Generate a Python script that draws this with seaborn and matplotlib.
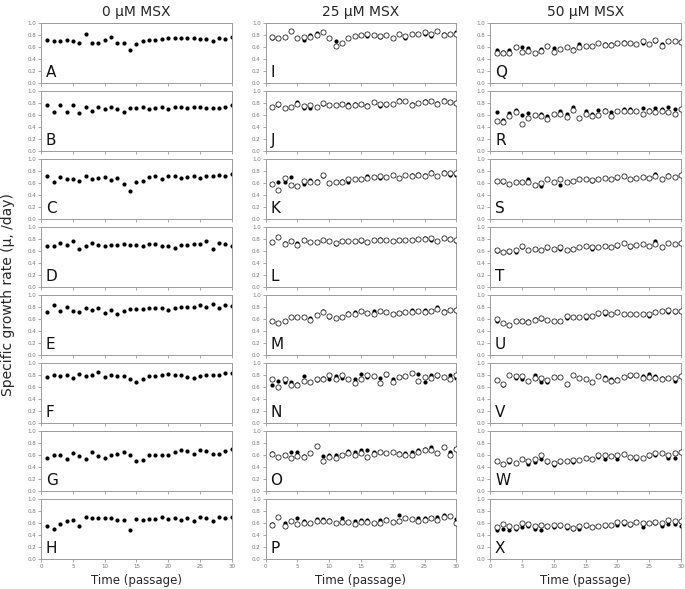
import numpy as np
import matplotlib
matplotlib.use("Agg")
import matplotlib.pyplot as plt
import seaborn as sns

passage = list(range(1, 31))
col_titles = ["0 μM MSX", "25 μM MSX", "50 μM MSX"]

# 0 uM MSX (filled only)
A = [0.72, 0.69, 0.70, 0.72, 0.69, 0.67, 0.81, 0.66, 0.67, 0.71, 0.76, 0.67, 0.66, 0.54, 0.65,
     0.70, 0.72, 0.72, 0.73, 0.75, 0.75, 0.75, 0.74, 0.75, 0.73, 0.73, 0.70, 0.74, 0.73, 0.76]
B = [0.76, 0.65, 0.76, 0.65, 0.77, 0.63, 0.74, 0.67, 0.74, 0.69, 0.74, 0.70, 0.65, 0.71, 0.71,
     0.74, 0.70, 0.71, 0.73, 0.70, 0.74, 0.73, 0.72, 0.74, 0.73, 0.72, 0.72, 0.72, 0.74, 0.76]
C = [0.72, 0.62, 0.70, 0.67, 0.67, 0.63, 0.71, 0.66, 0.69, 0.70, 0.65, 0.69, 0.58, 0.47, 0.61,
     0.63, 0.70, 0.72, 0.67, 0.71, 0.72, 0.68, 0.70, 0.71, 0.69, 0.72, 0.72, 0.73, 0.71, 0.75]
D = [0.69, 0.69, 0.74, 0.70, 0.77, 0.64, 0.69, 0.73, 0.70, 0.68, 0.70, 0.70, 0.72, 0.70, 0.70,
     0.69, 0.71, 0.72, 0.68, 0.69, 0.65, 0.70, 0.70, 0.72, 0.72, 0.77, 0.64, 0.73, 0.71, 0.69]
E = [0.72, 0.83, 0.74, 0.80, 0.74, 0.72, 0.78, 0.76, 0.79, 0.70, 0.76, 0.69, 0.73, 0.77, 0.77,
     0.77, 0.78, 0.79, 0.79, 0.75, 0.78, 0.80, 0.81, 0.81, 0.84, 0.81, 0.85, 0.78, 0.83, 0.82]
F = [0.77, 0.80, 0.78, 0.80, 0.76, 0.82, 0.79, 0.80, 0.85, 0.77, 0.81, 0.78, 0.78, 0.73, 0.69,
     0.74, 0.78, 0.78, 0.80, 0.82, 0.81, 0.80, 0.77, 0.76, 0.78, 0.80, 0.81, 0.81, 0.83, 0.83]
G = [0.56, 0.61, 0.61, 0.53, 0.64, 0.58, 0.54, 0.66, 0.58, 0.56, 0.60, 0.62, 0.66, 0.61, 0.51,
     0.52, 0.60, 0.60, 0.61, 0.60, 0.65, 0.68, 0.67, 0.62, 0.68, 0.67, 0.62, 0.62, 0.67, 0.70]
H = [0.56, 0.50, 0.59, 0.63, 0.65, 0.56, 0.71, 0.68, 0.68, 0.68, 0.69, 0.65, 0.66, 0.48, 0.67,
     0.66, 0.67, 0.67, 0.71, 0.67, 0.68, 0.66, 0.69, 0.63, 0.70, 0.69, 0.63, 0.70, 0.69, 0.70]

# 25 uM MSX: filled / open series
I_filled = [0.75, 0.75, 0.77, 0.86, 0.74, 0.71, 0.79, 0.83, 0.84, 0.75, 0.69, 0.67, 0.75, 0.78, 0.80,
            0.78, 0.79, 0.77, 0.80, 0.74, 0.82, 0.75, 0.81, 0.81, 0.82, 0.78, 0.87, 0.81, 0.81, 0.84]
I_open = [0.76, 0.75, 0.76, 0.86, 0.74, 0.76, 0.77, 0.80, 0.84, 0.75, 0.61, 0.67, 0.75, 0.78, 0.80,
          0.81, 0.79, 0.78, 0.80, 0.75, 0.82, 0.78, 0.81, 0.81, 0.84, 0.82, 0.87, 0.79, 0.81, 0.82]
J_filled = [0.73, 0.76, 0.72, 0.74, 0.81, 0.72, 0.72, 0.74, 0.78, 0.76, 0.76, 0.78, 0.78, 0.78, 0.78,
            0.77, 0.81, 0.75, 0.77, 0.78, 0.85, 0.84, 0.78, 0.80, 0.83, 0.83, 0.80, 0.85, 0.82, 0.80]
J_open = [0.73, 0.79, 0.72, 0.74, 0.79, 0.75, 0.77, 0.74, 0.80, 0.76, 0.76, 0.78, 0.75, 0.76, 0.79,
          0.75, 0.81, 0.79, 0.79, 0.78, 0.84, 0.84, 0.77, 0.80, 0.81, 0.83, 0.79, 0.84, 0.82, 0.80]
K_filled = [0.58, 0.62, 0.61, 0.70, 0.54, 0.59, 0.65, 0.63, 0.72, 0.60, 0.61, 0.64, 0.62, 0.67, 0.67,
            0.71, 0.70, 0.68, 0.70, 0.73, 0.68, 0.73, 0.74, 0.75, 0.73, 0.78, 0.72, 0.78, 0.73, 0.73]
K_open = [0.58, 0.48, 0.69, 0.56, 0.54, 0.63, 0.61, 0.61, 0.73, 0.60, 0.62, 0.62, 0.66, 0.67, 0.67,
          0.68, 0.70, 0.71, 0.70, 0.73, 0.68, 0.73, 0.72, 0.74, 0.71, 0.77, 0.72, 0.77, 0.76, 0.76]
L_filled = [0.75, 0.83, 0.74, 0.76, 0.74, 0.78, 0.75, 0.75, 0.79, 0.77, 0.72, 0.77, 0.76, 0.77, 0.77,
            0.75, 0.79, 0.80, 0.78, 0.77, 0.79, 0.79, 0.79, 0.80, 0.81, 0.79, 0.77, 0.82, 0.80, 0.76]
L_open = [0.75, 0.83, 0.72, 0.76, 0.70, 0.78, 0.75, 0.75, 0.79, 0.77, 0.74, 0.77, 0.76, 0.77, 0.79,
          0.75, 0.79, 0.78, 0.78, 0.77, 0.79, 0.79, 0.79, 0.80, 0.80, 0.82, 0.77, 0.82, 0.80, 0.78]
M_filled = [0.56, 0.53, 0.57, 0.63, 0.63, 0.63, 0.61, 0.67, 0.74, 0.63, 0.62, 0.63, 0.70, 0.71, 0.74,
            0.70, 0.73, 0.74, 0.71, 0.68, 0.70, 0.72, 0.75, 0.74, 0.75, 0.74, 0.80, 0.73, 0.75, 0.75]
M_open = [0.56, 0.53, 0.56, 0.63, 0.63, 0.63, 0.59, 0.67, 0.71, 0.65, 0.62, 0.63, 0.69, 0.68, 0.74,
          0.70, 0.69, 0.74, 0.71, 0.68, 0.70, 0.72, 0.71, 0.74, 0.72, 0.74, 0.77, 0.71, 0.75, 0.75]
N_filled = [0.64, 0.70, 0.68, 0.69, 0.65, 0.79, 0.69, 0.72, 0.76, 0.73, 0.78, 0.76, 0.73, 0.74, 0.82,
            0.77, 0.78, 0.75, 0.81, 0.74, 0.77, 0.78, 0.83, 0.82, 0.68, 0.80, 0.79, 0.77, 0.81, 0.75]
N_open = [0.73, 0.61, 0.74, 0.64, 0.63, 0.70, 0.69, 0.74, 0.73, 0.80, 0.73, 0.80, 0.73, 0.67, 0.74,
          0.80, 0.78, 0.67, 0.82, 0.68, 0.77, 0.78, 0.83, 0.71, 0.77, 0.76, 0.81, 0.77, 0.74, 0.80]
O_filled = [0.64, 0.57, 0.60, 0.66, 0.65, 0.58, 0.63, 0.75, 0.58, 0.61, 0.61, 0.60, 0.67, 0.65, 0.68,
            0.68, 0.66, 0.65, 0.63, 0.66, 0.63, 0.63, 0.66, 0.69, 0.71, 0.73, 0.63, 0.73, 0.65, 0.70]
O_open = [0.62, 0.57, 0.60, 0.56, 0.59, 0.57, 0.63, 0.75, 0.51, 0.57, 0.56, 0.60, 0.63, 0.61, 0.63,
          0.57, 0.62, 0.65, 0.63, 0.65, 0.62, 0.61, 0.61, 0.66, 0.68, 0.69, 0.63, 0.73, 0.60, 0.70]
P_filled = [0.59, 0.70, 0.60, 0.64, 0.68, 0.64, 0.60, 0.67, 0.67, 0.65, 0.61, 0.69, 0.62, 0.63, 0.65,
            0.65, 0.61, 0.65, 0.67, 0.62, 0.74, 0.68, 0.67, 0.68, 0.68, 0.68, 0.71, 0.73, 0.72, 0.67]
P_open = [0.57, 0.70, 0.55, 0.64, 0.58, 0.61, 0.60, 0.63, 0.63, 0.63, 0.60, 0.62, 0.62, 0.58, 0.62,
          0.62, 0.61, 0.61, 0.65, 0.62, 0.63, 0.68, 0.67, 0.63, 0.66, 0.68, 0.65, 0.70, 0.72, 0.60]

# 50 uM MSX: filled / open series
Q_filled = [0.54, 0.51, 0.55, 0.59, 0.60, 0.58, 0.50, 0.57, 0.61, 0.58, 0.56, 0.60, 0.57, 0.65, 0.62,
            0.62, 0.66, 0.65, 0.65, 0.66, 0.68, 0.66, 0.64, 0.67, 0.65, 0.69, 0.64, 0.69, 0.69, 0.68]
Q_open = [0.50, 0.50, 0.50, 0.59, 0.51, 0.53, 0.50, 0.53, 0.61, 0.52, 0.56, 0.60, 0.55, 0.59, 0.62,
          0.62, 0.66, 0.63, 0.63, 0.66, 0.66, 0.66, 0.64, 0.69, 0.65, 0.71, 0.62, 0.69, 0.69, 0.68]
R_filled = [0.64, 0.52, 0.63, 0.68, 0.60, 0.63, 0.60, 0.61, 0.58, 0.61, 0.67, 0.62, 0.73, 0.54, 0.66,
            0.61, 0.68, 0.68, 0.65, 0.66, 0.70, 0.70, 0.67, 0.71, 0.68, 0.71, 0.69, 0.73, 0.70, 0.70]
R_open = [0.50, 0.48, 0.58, 0.65, 0.45, 0.54, 0.59, 0.58, 0.53, 0.61, 0.61, 0.56, 0.68, 0.54, 0.61,
          0.58, 0.60, 0.67, 0.58, 0.66, 0.66, 0.66, 0.67, 0.61, 0.66, 0.65, 0.66, 0.65, 0.61, 0.70]
S_filled = [0.63, 0.61, 0.59, 0.61, 0.62, 0.67, 0.57, 0.55, 0.67, 0.62, 0.57, 0.62, 0.64, 0.66, 0.67,
            0.63, 0.66, 0.68, 0.67, 0.68, 0.71, 0.67, 0.69, 0.70, 0.69, 0.75, 0.66, 0.74, 0.70, 0.73]
S_open = [0.63, 0.63, 0.59, 0.61, 0.62, 0.62, 0.57, 0.60, 0.67, 0.62, 0.67, 0.62, 0.64, 0.66, 0.67,
          0.65, 0.66, 0.68, 0.67, 0.70, 0.71, 0.67, 0.69, 0.70, 0.69, 0.71, 0.66, 0.72, 0.70, 0.73]
T_filled = [0.60, 0.58, 0.58, 0.59, 0.66, 0.62, 0.63, 0.62, 0.65, 0.63, 0.63, 0.61, 0.63, 0.66, 0.68,
            0.64, 0.66, 0.68, 0.67, 0.68, 0.73, 0.66, 0.70, 0.71, 0.69, 0.76, 0.66, 0.74, 0.71, 0.74]
T_open = [0.62, 0.58, 0.60, 0.61, 0.69, 0.62, 0.63, 0.62, 0.67, 0.63, 0.67, 0.61, 0.63, 0.66, 0.68,
          0.66, 0.66, 0.68, 0.67, 0.70, 0.73, 0.68, 0.70, 0.71, 0.69, 0.72, 0.66, 0.73, 0.71, 0.74]
U_filled = [0.57, 0.53, 0.50, 0.56, 0.56, 0.57, 0.60, 0.60, 0.58, 0.57, 0.56, 0.61, 0.63, 0.63, 0.62,
            0.65, 0.68, 0.69, 0.68, 0.71, 0.69, 0.69, 0.69, 0.69, 0.65, 0.72, 0.74, 0.72, 0.71, 0.74]
U_open = [0.60, 0.53, 0.50, 0.56, 0.56, 0.55, 0.59, 0.61, 0.58, 0.57, 0.56, 0.65, 0.63, 0.63, 0.65,
          0.65, 0.70, 0.72, 0.68, 0.71, 0.69, 0.69, 0.69, 0.69, 0.69, 0.72, 0.74, 0.75, 0.73, 0.74]
V_filled = [0.72, 0.64, 0.81, 0.75, 0.74, 0.70, 0.80, 0.68, 0.68, 0.77, 0.77, 0.65, 0.81, 0.76, 0.74,
            0.69, 0.78, 0.77, 0.74, 0.73, 0.77, 0.79, 0.81, 0.79, 0.82, 0.78, 0.76, 0.76, 0.71, 0.78]
V_open = [0.72, 0.65, 0.81, 0.79, 0.78, 0.70, 0.76, 0.76, 0.72, 0.77, 0.77, 0.65, 0.81, 0.76, 0.74,
          0.69, 0.78, 0.74, 0.71, 0.72, 0.77, 0.81, 0.81, 0.76, 0.77, 0.76, 0.74, 0.76, 0.76, 0.78]
W_filled = [0.51, 0.45, 0.48, 0.47, 0.54, 0.46, 0.49, 0.53, 0.49, 0.44, 0.48, 0.50, 0.48, 0.52, 0.56,
            0.54, 0.57, 0.53, 0.59, 0.54, 0.62, 0.57, 0.53, 0.56, 0.58, 0.60, 0.64, 0.55, 0.55, 0.65]
W_open = [0.51, 0.45, 0.52, 0.47, 0.54, 0.50, 0.53, 0.60, 0.51, 0.47, 0.51, 0.50, 0.52, 0.52, 0.56,
          0.54, 0.61, 0.61, 0.59, 0.60, 0.62, 0.57, 0.57, 0.56, 0.60, 0.63, 0.64, 0.61, 0.64, 0.65]
X_filled = [0.48, 0.50, 0.49, 0.50, 0.53, 0.55, 0.51, 0.48, 0.54, 0.54, 0.56, 0.52, 0.50, 0.51, 0.55,
            0.54, 0.55, 0.55, 0.57, 0.57, 0.59, 0.57, 0.62, 0.53, 0.61, 0.60, 0.56, 0.58, 0.58, 0.56]
X_open = [0.53, 0.58, 0.56, 0.54, 0.61, 0.59, 0.55, 0.57, 0.56, 0.57, 0.57, 0.55, 0.52, 0.55, 0.57,
          0.54, 0.55, 0.57, 0.57, 0.62, 0.62, 0.59, 0.62, 0.60, 0.61, 0.62, 0.61, 0.65, 0.63, 0.63]

col0 = [("A", A), ("B", B), ("C", C), ("D", D), ("E", E), ("F", F), ("G", G), ("H", H)]
col1 = [("I", I_filled, I_open), ("J", J_filled, J_open), ("K", K_filled, K_open),
        ("L", L_filled, L_open), ("M", M_filled, M_open), ("N", N_filled, N_open),
        ("O", O_filled, O_open), ("P", P_filled, P_open)]
col2 = [("Q", Q_filled, Q_open), ("R", R_filled, R_open), ("S", S_filled, S_open),
        ("T", T_filled, T_open), ("U", U_filled, U_open), ("V", V_filled, V_open),
        ("W", W_filled, W_open), ("X", X_filled, X_open)]

sns.set_style("white")
plt.rcParams['font.family'] = ['DejaVu Sans']

fig, axes = plt.subplots(8, 3, figsize=(6.85, 5.89), dpi=100)
fig.subplots_adjust(left=0.060, right=0.994, top=0.961, bottom=0.051,
                    wspace=0.178, hspace=0.143)

frame_col = "#9a9a9a"


def style_panel(ax, letter, bottom_row):
    ax.set_xlim(0, 30)
    ax.set_ylim(0, 1.0)
    ax.set_xticks(np.arange(0, 31, 5))
    ax.set_yticks(np.arange(0, 1.01, 0.2))
    ax.set_yticklabels([f"{v:.1f}" for v in np.arange(0, 1.01, 0.2)])
    if not bottom_row:
        ax.set_xticklabels([])
    ax.tick_params(axis="both", which="both", direction="out", length=2, width=0.6,
                   color=frame_col, labelsize=4, labelcolor="#777777", pad=1.5,
                   bottom=True, left=True)
    for sp in ax.spines.values():
        sp.set_color(frame_col)
        sp.set_linewidth(0.7)
    ax.set_xlabel("")
    ax.set_ylabel("")
    ax.text(0.025, 0.05, letter, transform=ax.transAxes, fontsize=11,
            ha="left", va="bottom", color="#111111")


for r, (letter, vals) in enumerate(col0):
    ax = axes[r, 0]
    sns.scatterplot(x=passage, y=vals, ax=ax, color="black", s=9, linewidth=0)
    style_panel(ax, letter, r == 7)

for c, col in [(1, col1), (2, col2)]:
    for r, (letter, filled, opened) in enumerate(col):
        ax = axes[r, c]
        # filled dots sit underneath the open circles
        sns.scatterplot(x=passage, y=filled, ax=ax, color="black", s=9, linewidth=0, zorder=2)
        sns.scatterplot(x=passage, y=opened, ax=ax, color="white", edgecolor="black",
                        s=14, linewidth=0.5, zorder=3)
        style_panel(ax, letter, r == 7)

for c, title in enumerate(col_titles):
    axes[0, c].set_title(title, fontsize=10, pad=5)
    axes[7, c].set_xlabel("Time (passage)", fontsize=8.5, labelpad=4)

fig.text(0.012, 0.5, "Specific growth rate (μ, /day)", rotation=90,
         ha="center", va="center", fontsize=10)

fig.savefig("out.png", dpi=100)
